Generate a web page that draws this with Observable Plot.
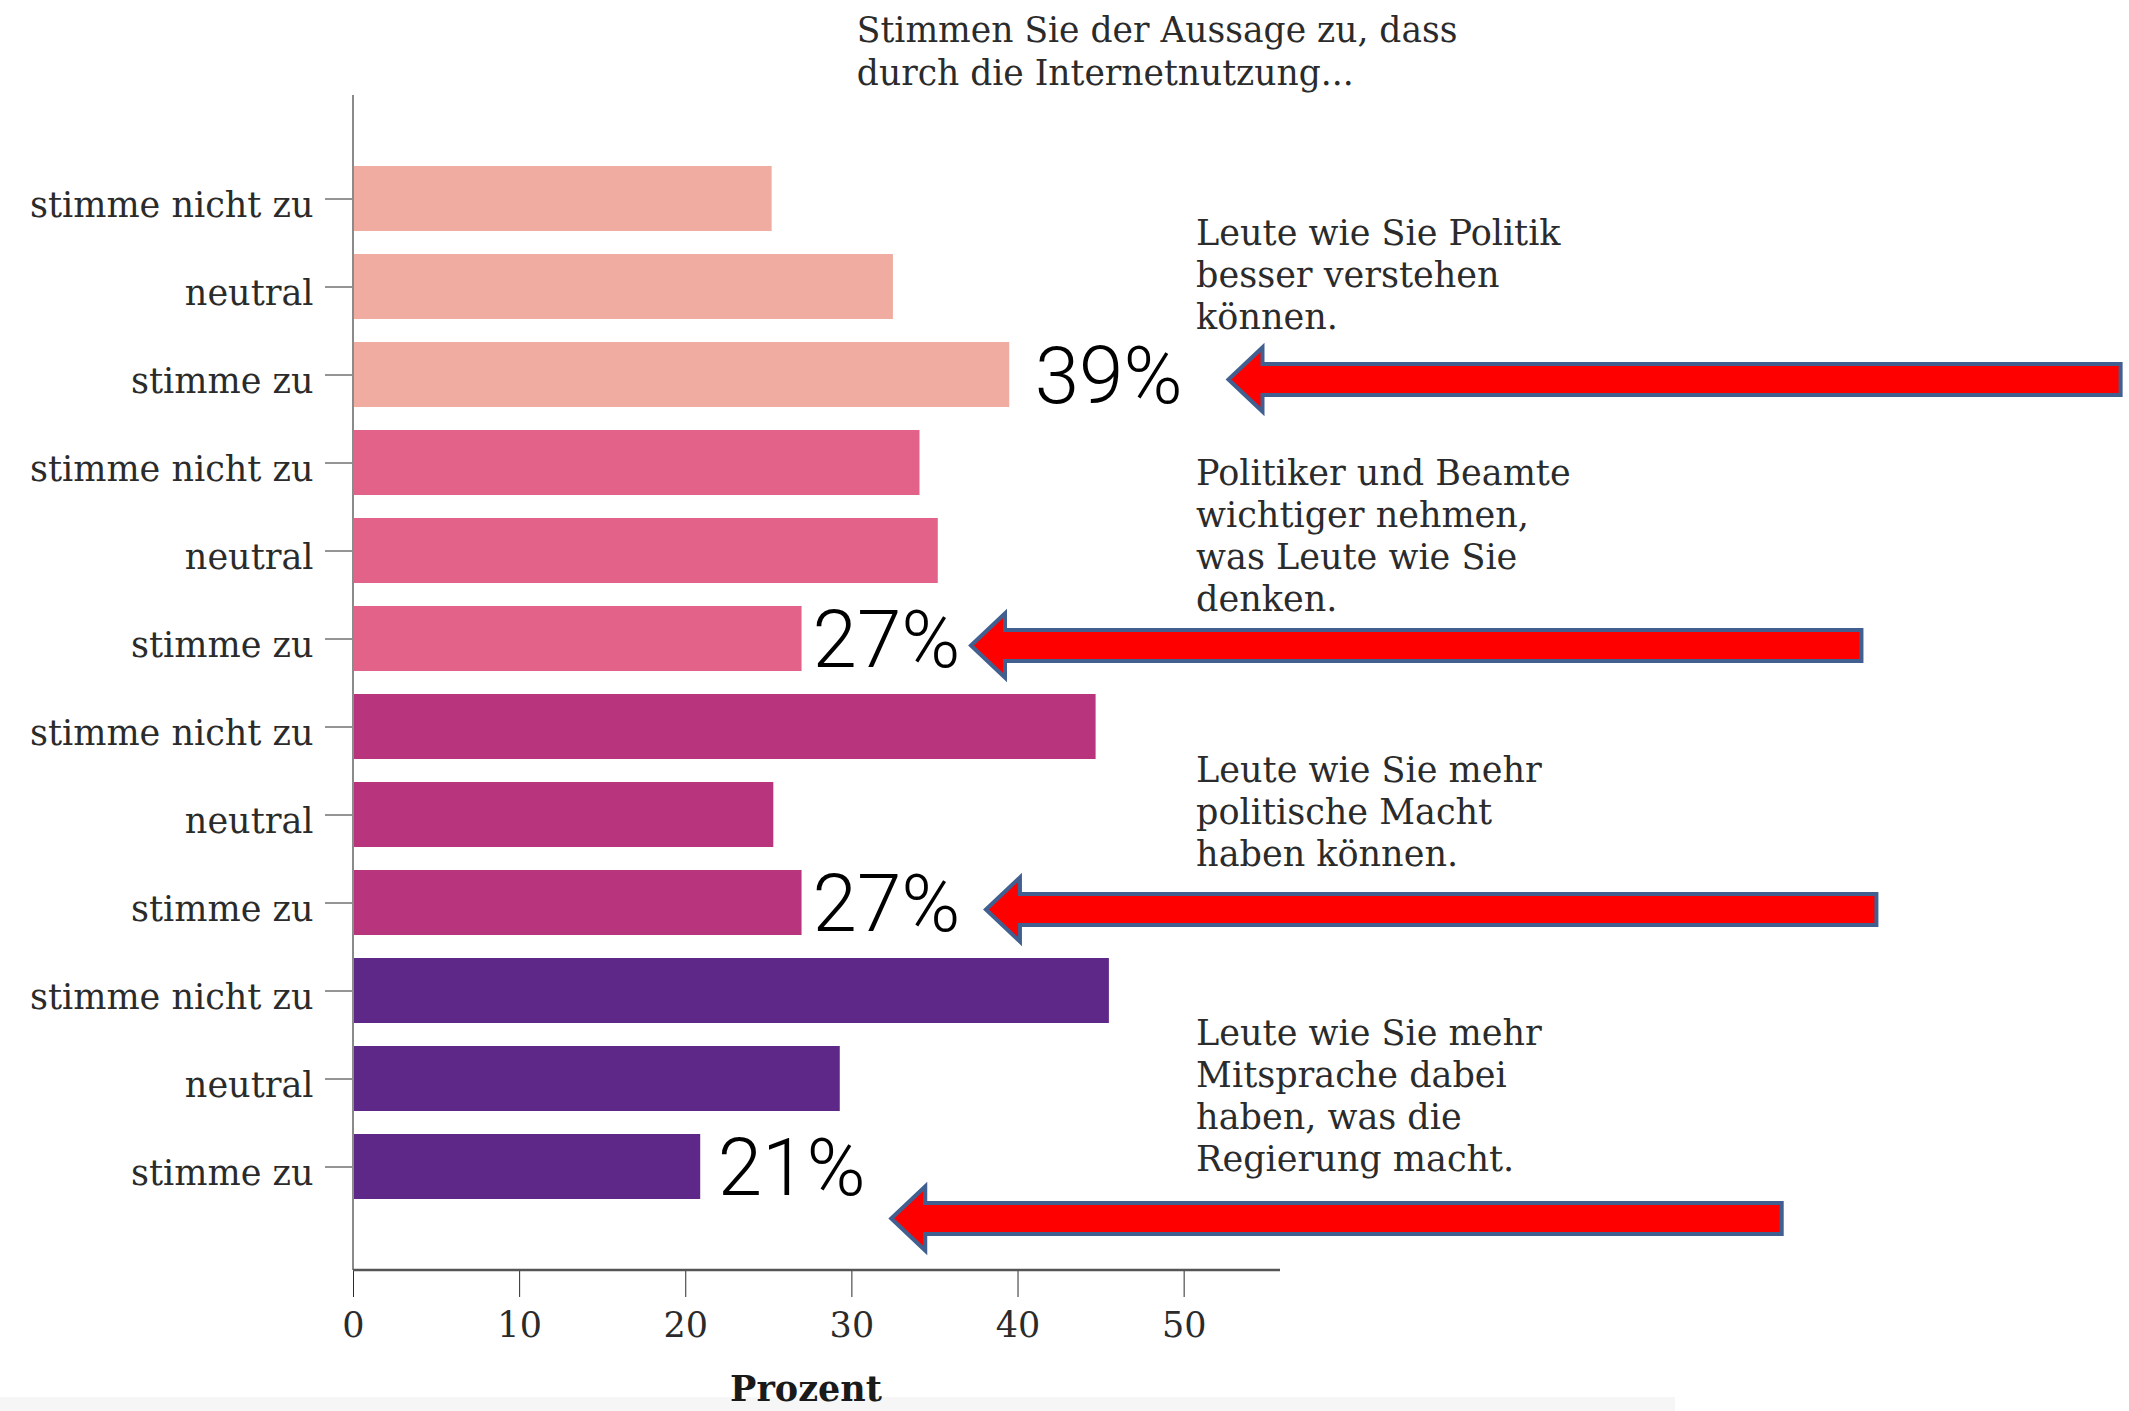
<!DOCTYPE html>
<html>
<head>
<meta charset="utf-8">
<script src="https://cdn.jsdelivr.net/npm/d3@7"></script>
<script src="https://cdn.jsdelivr.net/npm/@observablehq/plot@0.6"></script>
<style>
  html, body { margin: 0; padding: 0; background: #ffffff; }
  #chart { position: relative; width: 2129px; height: 1411px; overflow: hidden; background: #ffffff; }
  #strip { position: absolute; left: 0; top: 1397px; width: 1675px; height: 14px; background: #f6f6f6; z-index: 0; }
  #chart svg { position: absolute; left: 0; top: 0; z-index: 1; }
</style>
</head>
<body>
<div id="chart"><div id="strip"></div></div>
<script>
// ---------- data ----------
const responses = ["stimme nicht zu", "neutral", "stimme zu"];
const statementIds = ["verstehen", "wichtiger", "macht", "mitsprache"];
const valuesVerstehen = [25.2, 32.5, 39.5];
const valuesWichtiger = [34.1, 35.2, 27.0];
const valuesMacht = [44.7, 25.3, 27.0];
const valuesMitsprache = [45.5, 29.3, 20.9];
const statementColors = ["#F0ACA0", "#E3628A", "#B8357E", "#5E2889"];
const statementLines = [
  ["Leute wie Sie Politik", "besser verstehen", "können."],
  ["Politiker und Beamte", "wichtiger nehmen,", "was Leute wie Sie", "denken."],
  ["Leute wie Sie mehr", "politische Macht", "haben können."],
  ["Leute wie Sie mehr", "Mitsprache dabei", "haben, was die", "Regierung macht."]
];
const highlightLabels = ["39%", "27%", "27%", "21%"];
const arrowTips = [52.7, 37.2, 38.1, 32.4];
const arrowTails = [106.4, 90.8, 91.7, 86.0];
const xTicks = [0, 10, 20, 30, 40, 50];
const titleLines = ["Stimmen Sie der Aussage zu, dass", "durch die Internetnutzung..."];
const axisTitle = "Prozent";

// ---------- derived tables ----------
const allValues = [valuesVerstehen, valuesWichtiger, valuesMacht, valuesMitsprache];
const rows = statementIds.flatMap((s, i) =>
  responses.map((r, j) => ({key: s + "|" + r, statement: s, response: r, value: allValues[i][j]}))
);
const rowKeys = rows.map(d => d.key);
const highlightRows = statementIds.map((s, i) => ({
  key: s + "|stimme zu", value: allValues[i][2], label: highlightLabels[i]
}));
const annotationRows = statementIds.map((s, i) => ({key: s + "|neutral", text: statementLines[i].join("\n")}));
const arrowRows = statementIds.map((s, i) => ({key: s + "|stimme zu", tip: arrowTips[i], tail: arrowTails[i]}));

// ---------- layout / style ----------
const W = 2129, H = 1411;
const serif = "'DejaVu Serif', 'Liberation Serif', serif";
const annotationShift = [-13, -16, -4, 16];
const labelShift = [25, 10.5, 10.5, 17];
const arrowShift = [5, 7, 7, 52];

function axisLines(index, scales, values, dimensions) {
  const {width, height, marginLeft, marginRight, marginTop, marginBottom} = dimensions;
  const g = d3.create("svg:g");
  g.append("line")
    .attr("x1", marginLeft).attr("x2", marginLeft)
    .attr("y1", marginTop).attr("y2", height - marginBottom)
    .attr("stroke", "#8a8a8a").attr("stroke-width", 2);
  g.append("line")
    .attr("x1", marginLeft).attr("x2", width - marginRight)
    .attr("y1", height - marginBottom).attr("y2", height - marginBottom)
    .attr("stroke", "#555").attr("stroke-width", 2.5);
  return g.node();
}

function arrows(index, scales, values, dimensions) {
  const g = d3.create("svg:g");
  const bw = scales.y.bandwidth ? scales.y.bandwidth() : 0;
  const headLen = 34, headHalf = 32, shaftHalf = 15.5;
  arrowRows.forEach((a, i) => {
    const cy = scales.y(a.key) + bw / 2 + arrowShift[i];
    const xt = scales.x(a.tip), xe = scales.x(a.tail);
    const pts = [
      [xt, cy], [xt + headLen, cy - headHalf], [xt + headLen, cy - shaftHalf],
      [xe, cy - shaftHalf], [xe, cy + shaftHalf], [xt + headLen, cy + shaftHalf],
      [xt + headLen, cy + headHalf]
    ];
    g.append("path")
      .attr("d", "M" + pts.map(p => p.join(",")).join("L") + "Z")
      .attr("fill", "#ff0000")
      .attr("stroke", "#41608F")
      .attr("stroke-width", 4)
      .attr("stroke-linejoin", "miter");
  });
  return g.node();
}

const plot = Plot.plot({
  width: W,
  height: H,
  marginLeft: 353,
  marginRight: W - 1280,
  marginTop: 95,
  marginBottom: H - 1270,
  style: {fontFamily: serif, fontSize: "35px", color: "#2b2b2b", background: "transparent", overflow: "visible"},
  x: {domain: [0, 55.8], ticks: xTicks, tickSize: 27, tickPadding: 15, label: null, tickFormat: d => String(d)},
  y: {domain: rowKeys, tickFormat: k => k.split("|")[1], tickSize: 28, tickPadding: 12, label: null,
      paddingInner: 0.262, paddingOuter: 0.8},
  color: {domain: statementIds, range: statementColors},
  marks: [
    Plot.barX(rows, {x: "value", y: "key", fill: "statement"}),
    axisLines,
    ...highlightRows.map((h, i) => Plot.text([h], {
      x: "value", y: "key", text: "label", dx: labelShift[i], dy: 2, textAnchor: "start",
      fontFamily: "Roboto, 'Liberation Sans', sans-serif", fontWeight: 300, fontSize: 80, fill: "#000"
    })),
    ...annotationRows.map((a, i) => Plot.text([a], {
      x: 50.72, y: "key", text: "text", dy: annotationShift[i], textAnchor: "start",
      lineAnchor: "middle", lineHeight: 1.2, fontSize: 35, fill: "#2b2b2b"
    })),
    arrows,
    Plot.text([titleLines.join("\n")], {
      x: 30.3, frameAnchor: "top", dy: -46, textAnchor: "start", lineAnchor: "middle",
      lineHeight: 1.24, fontSize: 34.5, fill: "#2b2b2b"
    }),
    Plot.text([axisTitle], {
      frameAnchor: "bottom", dx: -11, dy: 119, lineAnchor: "middle",
      fontWeight: "bold", fontSize: 35, fill: "#1a1a1a"
    })
  ]
});
document.getElementById("chart").appendChild(plot);

// nudge the y tick labels slightly lower, as in the reference typesetting
const responseSet = new Set(responses);
d3.select(plot).selectAll("text").each(function() {
  if (responseSet.has(this.textContent.trim())) {
    const t = this.getAttribute("transform");
    this.setAttribute("transform", (t ? t + " " : "") + "translate(0,7)");
  }
});
</script>
</body>
</html>
